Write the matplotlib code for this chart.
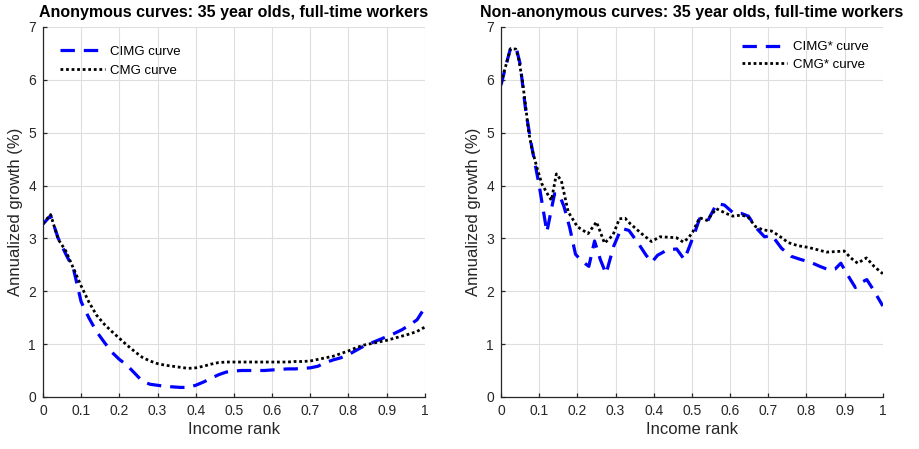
import numpy as np
import matplotlib
matplotlib.use("Agg")
import matplotlib.pyplot as plt

plt.rcParams["font.family"] = ["Liberation Sans", "DejaVu Sans"]

# anonymous curves (left panel)
rank_anon = np.round(np.arange(0, 1.0001, 0.02), 2)
cimg_anon = [3.27, 3.43, 3.00, 2.70, 2.42, 1.80, 1.50, 1.24, 1.04, 0.85,
             0.71, 0.60, 0.45, 0.30, 0.24, 0.22, 0.20, 0.19, 0.18, 0.18,
             0.22, 0.28, 0.35, 0.42, 0.47, 0.49, 0.50, 0.50, 0.50, 0.50,
             0.51, 0.52, 0.53, 0.53, 0.54, 0.55, 0.58, 0.65, 0.70, 0.74,
             0.80, 0.88, 0.96, 1.02, 1.08, 1.14, 1.20, 1.27, 1.36, 1.46,
             1.69]
cmg_anon = [3.28, 3.45, 2.98, 2.76, 2.43, 2.10, 1.80, 1.55, 1.38, 1.24,
            1.11, 0.98, 0.86, 0.75, 0.68, 0.63, 0.60, 0.58, 0.56, 0.54,
            0.55, 0.58, 0.62, 0.65, 0.66, 0.66, 0.66, 0.66, 0.66, 0.66,
            0.66, 0.66, 0.66, 0.67, 0.67, 0.68, 0.71, 0.74, 0.77, 0.82,
            0.87, 0.93, 0.98, 1.01, 1.04, 1.07, 1.11, 1.15, 1.19, 1.24,
            1.32]

# non-anonymous curves (right panel)
rank_cimg_star = [0, 0.012, 0.025, 0.04, 0.05, 0.065, 0.08, 0.1, 0.12, 0.14,
                  0.152, 0.165, 0.18, 0.195, 0.21, 0.23, 0.245, 0.26, 0.275, 0.295,
                  0.315, 0.335, 0.36, 0.38, 0.395, 0.41, 0.435, 0.46, 0.48, 0.49,
                  0.505, 0.52, 0.54, 0.565, 0.585, 0.61, 0.63, 0.648, 0.668, 0.69,
                  0.71, 0.735, 0.76, 0.785, 0.81, 0.835, 0.86, 0.875, 0.89, 0.905,
                  0.928, 0.942, 0.958, 0.975, 1.0]
cimg_star = [5.90, 6.25, 6.60, 6.60, 6.30, 5.40, 4.75, 4.00, 3.12, 3.84,
             3.84, 3.60, 3.20, 2.70, 2.58, 2.47, 2.95, 2.60, 2.33, 2.85,
             3.19, 3.15, 2.90, 2.68, 2.55, 2.68, 2.78, 2.80, 2.60, 2.78,
             3.06, 3.37, 3.31, 3.66, 3.63, 3.47, 3.47, 3.42, 3.20, 3.03,
             3.05, 2.81, 2.66, 2.60, 2.55, 2.47, 2.40, 2.42, 2.53, 2.34,
             2.07, 2.16, 2.22, 2.03, 1.72]
rank_cmg_star = [0, 0.013, 0.025, 0.039, 0.046, 0.055, 0.064, 0.072, 0.081, 0.094,
                 0.107, 0.124, 0.132, 0.145, 0.158, 0.176, 0.2, 0.228, 0.25, 0.258,
                 0.271, 0.293, 0.31, 0.325, 0.338, 0.368, 0.394, 0.416, 0.442, 0.46,
                 0.477, 0.49, 0.502, 0.52, 0.539, 0.564, 0.59, 0.607, 0.629, 0.646,
                 0.667, 0.686, 0.708, 0.726, 0.752, 0.778, 0.804, 0.826, 0.852, 0.878,
                 0.899, 0.916, 0.934, 0.957, 0.977, 1.0]
cmg_star = [5.94, 6.28, 6.59, 6.58, 6.40, 6.03, 5.53, 5.03, 4.69, 4.34,
            4.03, 3.81, 3.72, 4.22, 4.09, 3.50, 3.22, 3.09, 3.31, 3.16,
            2.91, 3.06, 3.37, 3.38, 3.28, 3.09, 2.94, 3.03, 3.02, 3.01,
            2.93, 3.00, 3.12, 3.39, 3.34, 3.56, 3.47, 3.42, 3.44, 3.41,
            3.22, 3.16, 3.14, 3.06, 2.92, 2.86, 2.83, 2.79, 2.74, 2.75,
            2.76, 2.63, 2.53, 2.63, 2.47, 2.33]

titles = ["Anonymous curves: 35 year olds, full-time workers",
          "Non-anonymous curves: 35 year olds, full-time workers"]
xticks = np.round(np.arange(0, 1.01, 0.1), 1)
xticklabels = ["0", "0.1", "0.2", "0.3", "0.4", "0.5", "0.6", "0.7", "0.8", "0.9", "1"]

fig = plt.figure(figsize=(9.2, 4.49), dpi=100)
ax1 = fig.add_axes([0.0467, 0.116, 0.415, 0.824])
ax2 = fig.add_axes([0.5446, 0.116, 0.415, 0.824])

dash = (0, (4.5, 2.8))
dot = (0, (1, 1))

ax1.plot(rank_anon, cimg_anon, color="#0000ff", lw=2.3, linestyle=dash, label="CIMG curve")
ax1.plot(rank_anon, cmg_anon, color="black", lw=2.0, linestyle=dot, label="CMG curve")
ax2.plot(rank_cimg_star, cimg_star, color="#0000ff", lw=2.3, linestyle=dash, label="CIMG* curve")
ax2.plot(rank_cmg_star, cmg_star, color="black", lw=2.0, linestyle=dot, label="CMG* curve")

for ax, title in zip([ax1, ax2], titles):
    ax.set_xlim(0, 1)
    ax.set_ylim(0, 7)
    ax.set_xticks(xticks)
    ax.set_xticklabels(xticklabels)
    ax.set_yticks(range(8))
    ax.grid(True, color="#dedede", lw=0.8)
    ax.set_axisbelow(True)
    for s in ["top", "right"]:
        ax.spines[s].set_visible(False)
    for s in ["left", "bottom"]:
        ax.spines[s].set_color("#262626")
        ax.spines[s].set_linewidth(0.9)
    ax.tick_params(direction="in", length=3, width=0.9, color="#262626",
                   labelsize=10, labelcolor="#262626", pad=5)
    ax.set_xlabel("Income rank", fontsize=12, color="#262626", labelpad=3)
    ax.set_ylabel("Annualized growth (%)", fontsize=12, color="#262626", labelpad=4)
    ax.set_title(title, fontsize=11.5, fontweight="bold", pad=7)

ax1.legend(loc="upper left", bbox_to_anchor=(0.045, 0.95), frameon=False,
           fontsize=9.5, handlelength=3.4, handletextpad=0.4, labelspacing=0.5,
           borderpad=0, borderaxespad=0)
ax2.legend(loc="upper right", bbox_to_anchor=(0.962, 0.962), frameon=False,
           fontsize=9.5, handlelength=3.4, handletextpad=0.4, labelspacing=0.4,
           borderpad=0, borderaxespad=0)

fig.savefig("out.png", dpi=100)
